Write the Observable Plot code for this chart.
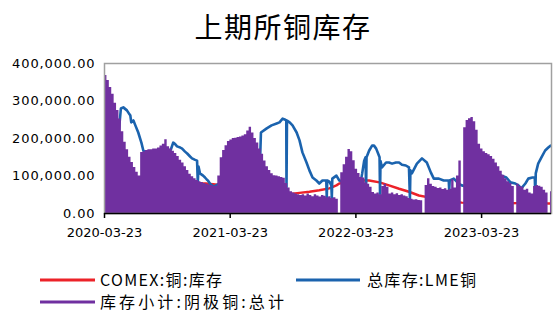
<!DOCTYPE html>
<html><head><meta charset="utf-8">
<script src="https://cdn.jsdelivr.net/npm/d3@7"></script>
<script src="https://cdn.jsdelivr.net/npm/@observablehq/plot@0.6"></script>
<style>
body{margin:0;background:#fff;width:553px;height:312px;overflow:hidden;position:relative;}
#title,#legend{position:absolute;left:0;}
#chart{position:absolute;left:0;top:50px;}
</style></head><body>
<svg id="title" width="553" height="50" style="top:0">
  <text x="283" y="38" text-anchor="middle" font-family="Noto Sans CJK SC" font-size="28" letter-spacing="1.5" fill="#000">上期所铜库存</text>
</svg>
<div id="chart"></div>
<svg id="legend" width="553" height="62" style="top:250px"></svg>
<script>
// ---- data ----
const startDate = "2020-03-23";
const endDate = "2023-10-12";
const xTickLabels = ["2020-03-23","2021-03-23","2022-03-23","2023-03-23"];
const yTickValues = [0,100000,200000,300000,400000];
const seriesNames = ["COMEX:铜:库存","总库存:LME铜","库存小计:阴极铜:总计"];
const seriesColors = ["#ec2229","#1b63ae","#7030a0"];

// 库存小计:阴极铜:总计 (weekly, from startDate)
const shfeWeekly = [
368000,355000,336000,318000,294000,275000,252000,218000,190000,170000,
150000,136000,123000,110000,100000,163000,165000,168000,170000,170000,
172000,172000,175000,180000,185000,197000,178000,172000,166000,160000,
152000,142000,135000,125000,115000,105000,98000,93000,88000,85000,
83000,80000,78000,76000,75000,73000,73000,100000,149000,168000,
181000,192000,196000,200000,201000,203000,204000,207000,210000,220000,
230000,215000,200000,188000,172000,158000,140000,125000,115000,106000,
101000,100000,98000,96000,94000,80000,68000,58000,55000,52000,
50000,48000,50000,47000,52000,48000,45000,50000,47000,44000,
48000,46000,42000,45000,40000,42000,38000,0,109000,130000,
150000,171000,165000,141000,118000,107000,96000,95000,82000,78000,
70000,56000,52000,55000,50000,72000,78000,70000,52000,55000,
50000,53000,48000,50000,47000,45000,40000,38000,36000,37000,
35000,34000,0,75000,93000,78000,72000,70000,67000,68000,
64000,66000,62000,65000,90000,68000,100000,140000,0,229000,
248000,253000,256000,245000,222000,185000,172000,165000,160000,157000,
152000,145000,135000,125000,113000,102000,93000,85000,80000,72000,
0,78000,72000,70000,62000,65000,55000,52000,72000,75000,
73000,70000,62000,55000,0,58000];

// 总库存:LME铜 [week offset, value]
const lmePoints = [
[0,255000],[1,262000],[2,258000],[3,265000],[3.7,269000],[4.3,250000],[5.9,216000],[6.8,280000],
[7.8,283000],[9.3,275000],[10.3,265000],[10.7,262000],[11.1,243000],[12.0,248000],[12.8,235000],
[14.0,216000],[15.3,189000],[16.1,168000],[17,162000],[19,158000],[21,160000],[23,165000],
[25,170000],[27,166000],[27.5,170000],[28.5,189000],[29.3,185000],[30.1,179000],[31.4,176000],
[32.2,173000],[33.4,165000],[34.3,160000],[35.5,152000],[36.3,147000],[37.6,143000],[38.4,141000],
[38.7,83000],[39.0,125000],[39.6,107000],[40.9,101000],[41.7,96000],[42.5,90000],[42.9,88000],
[43.7,80000],[44.6,75000],[45.4,72000],[47,78000],[50,85000],[53,95000],[56,110000],[59,130000],
[62,145000],[64.6,155000],[64.9,216000],[67.3,227000],[69.3,235000],[71.4,240000],[72.6,243000],
[73.9,253000],[75.0,250000],[75.4,248000],[75.5,69000],[75.7,248000],[76.8,243000],[78,235000],
[79.7,216000],[80.9,195000],[82.1,163000],[83.8,136000],[85,115000],[86.3,96000],[87.9,88000],
[89.1,80000],[90.4,88000],[92,88000],[92.2,43000],[92.4,88000],[93.3,85000],[94.1,75000],
[94.3,43000],[94.5,93000],[96.2,101000],[97.4,88000],[99,85000],[102,80000],[104,75000],
[106,75000],[106.9,107000],[107.7,140000],[108.3,150000],[108.5,55000],[108.7,150000],
[109.8,168000],[111,181000],[111.8,181000],[112.7,173000],[113.5,160000],[114.1,150000],
[114.3,53000],[114.5,140000],[115.1,123000],[116.8,136000],[118,136000],[119.3,133000],
[120.9,136000],[122.2,136000],[123.4,130000],[125,128000],[126.3,123000],[126.7,40000],
[126.9,115000],[127.5,107000],[129.6,133000],[131.7,147000],[133.7,136000],[135.4,109000],
[136.6,93000],[138.7,93000],[140.7,88000],[142.8,88000],[143,60000],[143.2,88000],[144.9,93000],
[146.9,80000],[148.2,75000],[150,72000],[155,78000],[160,90000],[163,98000],[164.7,101000],
[166.7,96000],[168.4,83000],[170.4,80000],[171.7,75000],[172.9,67000],[174.6,80000],[175.8,93000],
[177.5,96000],[178.5,96000],[178.7,43000],[178.9,107000],[179.9,133000],[181.2,149000],
[182.8,168000],[184.1,176000],[185,181000]];

// COMEX:铜:库存 [week offset, value]
const comexPoints = [
[0,30000],[10,45000],[20,70000],[30,80000],[38,80000],[42,80000],[45,78000],[50,75000],
[60,65000],[70,56000],[78,53000],[80.9,55000],[85,58000],[89.1,62000],[93.3,67000],[96.2,75000],
[97.4,80000],[100.3,83000],[103.6,85000],[106.5,88000],[109.8,88000],[114.1,83000],[118,75000],
[122.2,66000],[126.3,58000],[130.4,48000],[134.5,43000],[138.7,38000],[142.8,33000],[148.2,29000],
[159.3,27000],[171.7,28000],[176.6,30000],[183.7,27000],[185,27000]];

// ---- build ----
const parse = d3.utcParse("%Y-%m-%d");
const t0 = parse(startDate);
const wk = w => new Date(t0.getTime() + w * 7 * 864e5);
const shfe = shfeWeekly.map((v, i) => ({date: wk(i), v}));
shfe.push({date: wk(shfeWeekly.length), v: shfeWeekly[shfeWeekly.length - 1]});
const lme = lmePoints.map(([w, v]) => ({date: wk(w), v}));
const comex = comexPoints.map(([w, v]) => ({date: wk(w), v}));

const chart = Plot.plot({
  width: 553, height: 200,
  marginTop: 13, marginBottom: 37, marginLeft: 104, marginRight: 2,
  x: {type: "utc", domain: [t0, parse(endDate)], label: null},
  y: {domain: [0, 400000], label: null},
  style: {fontFamily: "DejaVu Sans", fontSize: "13px", color: "#000", background: "#fff"},
  marks: [
    Plot.lineY(comex, {x: "date", y: "v", stroke: seriesColors[0], strokeWidth: 2.5, clip: true}),
    Plot.lineY(lme, {x: "date", y: "v", stroke: seriesColors[1], strokeWidth: 2.6, clip: true}),
    Plot.areaY(shfe, {x: "date", y: "v", curve: "step-after", fill: seriesColors[2], clip: true}),
    Plot.frame({stroke: "#a0a0a0", strokeWidth: 1.5}),
    Plot.axisY({ticks: yTickValues, tickSize: 0, tickPadding: 9, tickFormat: d3.format(",.2f"), fontSize: 13, label: null}),
    Plot.axisX({ticks: xTickLabels.map(parse), tickSize: 5, tickPadding: 9, tickFormat: d3.utcFormat("%Y-%m-%d"), stroke: "#000", strokeWidth: 1.5, fontSize: 13, label: null}),
    Plot.ruleY([0], {stroke: "#000", strokeWidth: 1.5})
  ]
});
document.getElementById("chart").appendChild(chart);
chart.querySelectorAll('[aria-label="y-axis tick label"] text').forEach(t => t.setAttribute("letter-spacing", "0.9"));

// legend
const lg = d3.select("#legend");
const items = [
  {i: 0, x1: 40, x2: 95, tx: 100, tw: 122, y: 30},
  {i: 1, x1: 296, x2: 360, tx: 367, tw: 109, y: 30},
  {i: 2, x1: 40, x2: 95, tx: 100, tw: 184, y: 52}
];
items.forEach(d => {
  lg.append("line").attr("x1", d.x1).attr("x2", d.x2).attr("y1", d.y).attr("y2", d.y)
    .attr("stroke", seriesColors[d.i]).attr("stroke-width", 3);
  lg.append("text").attr("x", d.tx).attr("y", d.y).attr("dy", "0.36em")
    .attr("font-family", "Noto Sans CJK SC").attr("font-size", 16)
    .attr("textLength", d.tw).attr("lengthAdjust", "spacing")
    .attr("fill", "#000").text(seriesNames[d.i]);
});
</script>
</body></html>
